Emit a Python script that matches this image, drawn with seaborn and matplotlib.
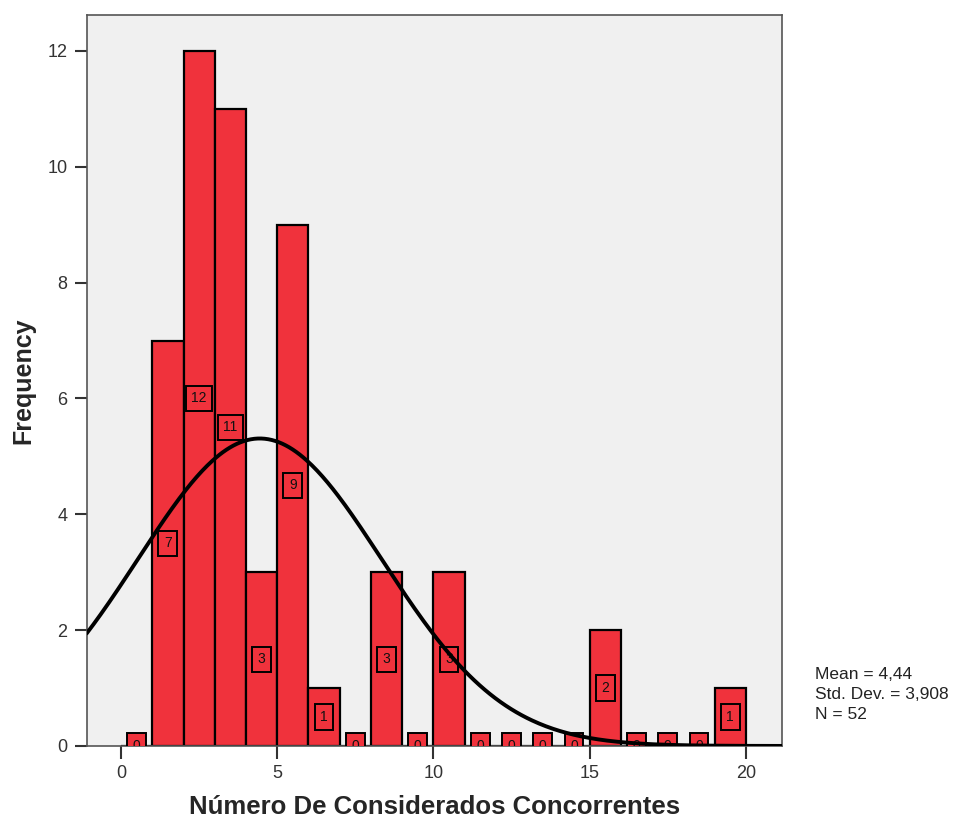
import matplotlib
matplotlib.use('Agg')
import matplotlib.pyplot as plt
import numpy as np
import pandas as pd
import seaborn as sns

# bin lower edges (width 1) and frequencies
bin_starts = list(range(0, 20))
counts = [0, 7, 12, 11, 3, 9, 1, 0, 3, 0, 3, 0, 0, 0, 0, 2, 0, 0, 0, 1]
mean_val = 4.44
std_val = 3.908
n_val = 52

x_ticks = [0, 5, 10, 15, 20]
y_ticks = [0, 2, 4, 6, 8, 10, 12]

sns.set_style('white')
plt.rcParams['font.family'] = ['Liberation Sans', 'DejaVu Sans']

bar_red = '#F0323C'

fig = plt.figure(figsize=(9.58, 8.23), dpi=100)
ax = fig.add_axes([0.0908, 0.0936, 0.7252, 0.8882])
ax.set_facecolor('#F0F0F0')

df = pd.DataFrame({'x': [b + 0.5 for b in bin_starts], 'w': counts})
sns.histplot(data=df, x='x', weights='w', bins=20, binrange=(0, 20), color=bar_red,
             alpha=1, edgecolor='black', linewidth=1.6, ax=ax, zorder=2)

# bar value labels in small boxes at mid height
for c, v in zip(df['x'], counts):
    ax.text(c, v / 2, str(v), ha='center', va='center', fontsize=10, zorder=4,
            clip_on=True, color='#111111',
            bbox=dict(boxstyle='square,pad=0.4', facecolor=bar_red,
                      edgecolor='black', linewidth=1.4))

# fitted normal curve from the reported mean / std. dev.
xs = np.linspace(-1.1, 21.2, 400)
ys = n_val * 1.0 / (std_val * np.sqrt(2 * np.pi)) * np.exp(-0.5 * ((xs - mean_val) / std_val) ** 2)
sns.lineplot(x=xs, y=ys, color='black', linewidth=2.8, ax=ax, zorder=5)

ax.set_xlim(-1.09, 21.15)
ax.set_ylim(0, 12.62)
ax.set_xticks(x_ticks)
ax.set_yticks(y_ticks)
ax.tick_params(axis='both', direction='out', length=9, width=1.5, color='#333333',
               labelsize=13, labelcolor='#333333', left=True, bottom=True, pad=5)
for s in ax.spines.values():
    s.set_color('#555555')
    s.set_linewidth(1.2)

ax.set_xlabel('Número De Considerados Concorrentes', fontsize=18.5, fontweight='bold', labelpad=9)
ax.set_ylabel('Frequency', fontsize=18, fontweight='bold', labelpad=9)

fig.text(0.851, 0.189, 'Mean = 4,44\nStd. Dev. = 3,908\nN = 52', fontsize=12.5,
         va='top', ha='left', linespacing=1.38, color='#222222')

plt.savefig('out.png', dpi=100)
